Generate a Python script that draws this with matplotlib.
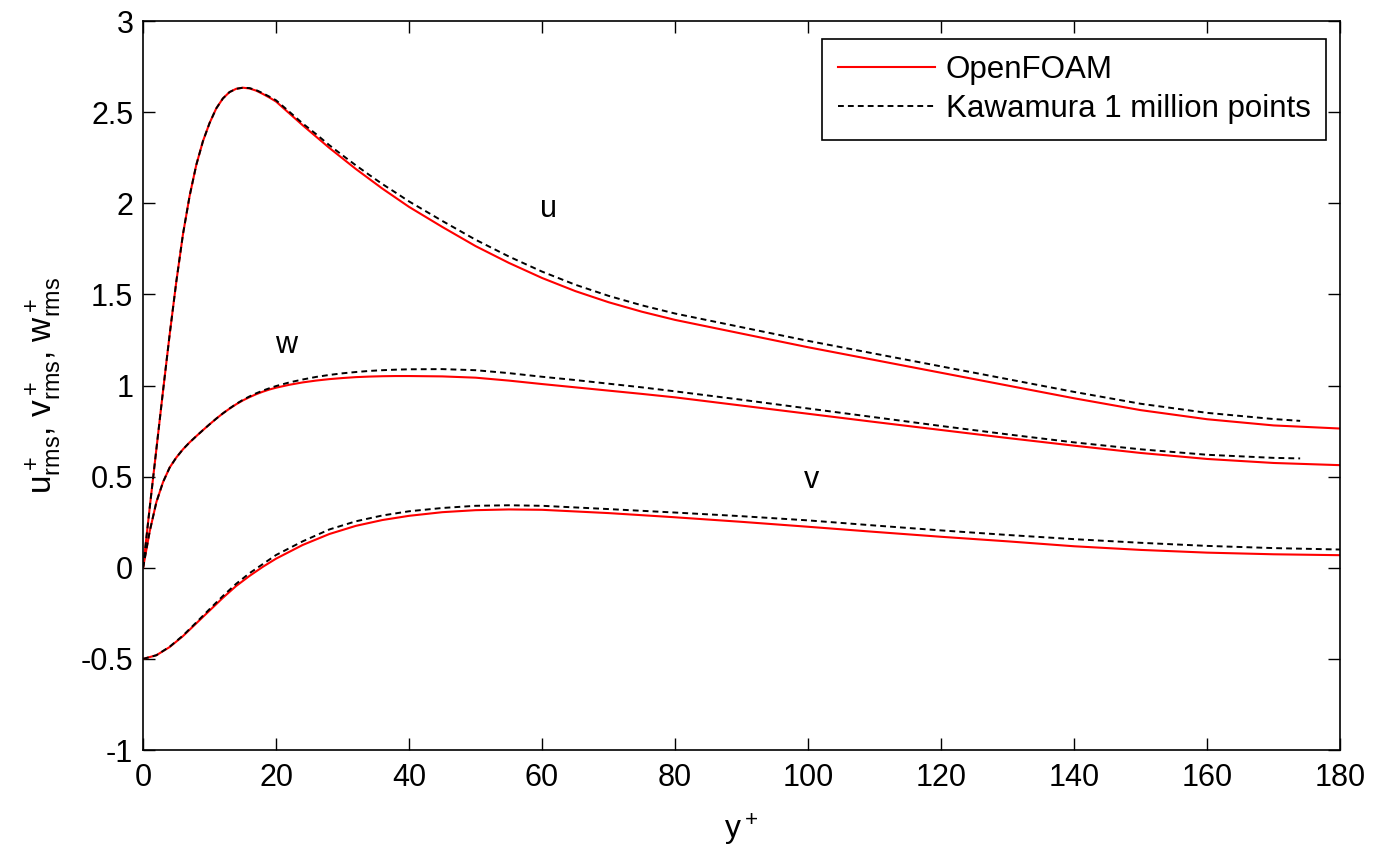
"""RMS velocity fluctuations across the channel: OpenFOAM vs Kawamura DNS."""

import numpy as np
import matplotlib
matplotlib.use("Agg")
import matplotlib.pyplot as plt

plt.rcParams['font.family'] = ['Liberation Sans', 'DejaVu Sans']
plt.rcParams['mathtext.default'] = 'regular'

# wall-normal positions for the u and w profiles
y_plus_uw = [0, 1, 2, 3, 4, 5, 6, 7, 8, 9, 10, 11, 12, 13, 14, 15, 16, 17, 18, 19, 20,
             22, 24, 26, 28, 30, 32, 34, 36, 38, 40, 45, 50, 55, 60, 65, 70, 75, 80,
             90, 100, 110, 120, 130, 140, 150, 160, 170, 180]

# OpenFOAM
u_of = [0, 0.33, 0.65, 0.97, 1.28, 1.57, 1.83, 2.04, 2.21, 2.34, 2.44, 2.52, 2.575,
        2.61, 2.628, 2.634, 2.63, 2.618, 2.60, 2.58, 2.558,
        2.493, 2.428, 2.366, 2.304, 2.246, 2.188, 2.134, 2.08, 2.03, 1.98,
        1.87, 1.765, 1.673, 1.59, 1.518, 1.457, 1.405, 1.36,
        1.285, 1.21, 1.14, 1.07, 1.0, 0.93, 0.865, 0.815, 0.781, 0.764]
w_of = [0, 0.2, 0.36, 0.47, 0.55, 0.605, 0.65, 0.688, 0.722, 0.755, 0.787, 0.818, 0.847,
        0.873, 0.897, 0.918, 0.936, 0.952, 0.966, 0.978, 0.988,
        1.004, 1.017, 1.027, 1.035, 1.041, 1.046, 1.049, 1.051, 1.052, 1.052,
        1.05, 1.043, 1.027, 1.008, 0.99, 0.972, 0.954, 0.935,
        0.89, 0.845, 0.80, 0.756, 0.712, 0.67, 0.63, 0.597, 0.575, 0.563]

# Kawamura DNS, last point at y+ = 174
y_plus_kaw = y_plus_uw[:-1] + [174]
u_kaw = [0, 0.33, 0.65, 0.97, 1.28, 1.57, 1.83, 2.04, 2.21, 2.34, 2.44, 2.52, 2.575,
         2.61, 2.628, 2.634, 2.632, 2.621, 2.604, 2.585, 2.565,
         2.502, 2.438, 2.38, 2.319, 2.263, 2.208, 2.156, 2.105, 2.058, 2.01,
         1.903, 1.80, 1.708, 1.625, 1.553, 1.492, 1.44, 1.395,
         1.32, 1.245, 1.175, 1.105, 1.035, 0.965, 0.90, 0.85, 0.816, 0.806]
w_kaw = [0, 0.2, 0.36, 0.47, 0.55, 0.605, 0.65, 0.688, 0.722, 0.755, 0.787, 0.818, 0.847,
         0.874, 0.899, 0.921, 0.94, 0.957, 0.972, 0.985, 0.997,
         1.017, 1.033, 1.047, 1.058, 1.067, 1.074, 1.08, 1.084, 1.087, 1.089,
         1.09, 1.084, 1.068, 1.048, 1.03, 1.01, 0.99, 0.968,
         0.922, 0.874, 0.826, 0.778, 0.732, 0.688, 0.65, 0.62, 0.603, 0.60]

# v profiles (shifted down by 0.5)
y_plus_v = [0, 2, 4, 6, 8, 10, 12, 14, 16, 18, 20, 24, 28, 32, 36, 40, 45, 50, 55,
            60, 70, 80, 90, 100, 110, 120, 130, 140, 150, 160, 170, 180]
v_of = [-0.5, -0.48, -0.435, -0.375, -0.305, -0.235, -0.165, -0.10, -0.045, 0.005,
        0.05, 0.125, 0.185, 0.23, 0.262, 0.285, 0.305, 0.316, 0.32, 0.318, 0.30,
        0.277, 0.252, 0.225, 0.197, 0.17, 0.145, 0.118, 0.098, 0.083, 0.074, 0.069]
v_kaw = [-0.5, -0.48, -0.433, -0.372, -0.30, -0.227, -0.155, -0.088, -0.03, 0.02,
         0.07, 0.145, 0.21, 0.255, 0.287, 0.31, 0.328, 0.34, 0.343, 0.34, 0.322,
         0.303, 0.283, 0.26, 0.232, 0.205, 0.18, 0.157, 0.137, 0.12, 0.108, 0.10]

x_ticks = [0, 20, 40, 60, 80, 100, 120, 140, 160, 180]
y_ticks = [-1, -0.5, 0, 0.5, 1, 1.5, 2, 2.5, 3]
y_tick_labels = ['-1', '-0.5', '0', '0.5', '1', '1.5', '2', '2.5', '3']

# curve labels: (text, y+, value)
curve_labels = [('u', 61, 1.97), ('w', 21.5, 1.22), ('v', 100.5, 0.48)]

fig = plt.figure(figsize=(13.73, 8.47), dpi=100)
ax = fig.add_axes([0.1042, 0.1145, 0.8718, 0.8607])

red_kw = dict(color='#ff0000', linewidth=1.5)
kaw_kw = dict(color='black', linewidth=1.4, linestyle=(0, (3.0, 2.1)))

ax.plot(y_plus_uw, u_of, label='OpenFOAM', **red_kw)
ax.plot(y_plus_uw, w_of, **red_kw)
ax.plot(y_plus_v, v_of, **red_kw)
ax.plot(y_plus_kaw, u_kaw, label='Kawamura 1 million points', **kaw_kw)
ax.plot(y_plus_kaw, w_kaw, **kaw_kw)
ax.plot(y_plus_v, v_kaw, **kaw_kw)

for name, xp, yp in curve_labels:
    ax.text(xp, yp, name, fontsize=22, ha='center', va='center')

ax.set_xlim(0, 180)
ax.set_ylim(-1, 3)
ax.set_xticks(x_ticks)
ax.set_yticks(y_ticks)
ax.set_yticklabels(y_tick_labels)
ax.tick_params(direction='in', length=8.4, width=1, labelsize=22,
               top=True, right=True)
ax.tick_params(axis='x', pad=9)
ax.tick_params(axis='y', pad=7)
for sp in ax.spines.values():
    sp.set_linewidth(1.2)

ax.set_xlabel('$y^+$', fontsize=23)
ax.xaxis.set_label_coords(0.5, -0.085)
ax.set_ylabel('$u^+_{rms}$, $v^+_{rms}$, $w^+_{rms}$', fontsize=24)
ax.yaxis.set_label_coords(-0.066, 0.5)

leg = ax.legend(loc='upper right', bbox_to_anchor=(0.9883, 0.9753), borderaxespad=0,
                fontsize=22.5, fancybox=False, framealpha=1, edgecolor='black',
                handlelength=3.1, handletextpad=0.35, borderpad=0.5, labelspacing=0.3)
leg.get_frame().set_linewidth(1.2)

fig.savefig('out.png', dpi=100)
